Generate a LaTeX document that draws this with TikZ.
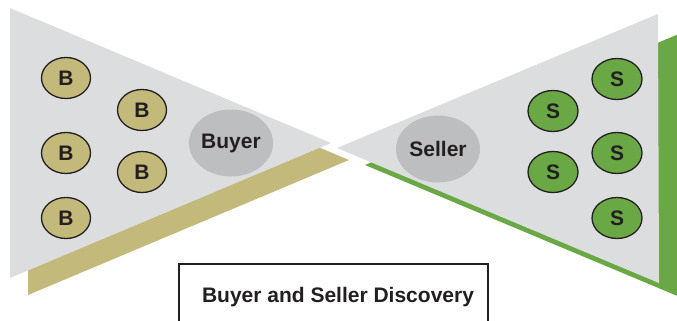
\documentclass[tikz,border=0pt]{standalone}
\usepackage{fontspec}
\setmainfont{Liberation Sans}
\usetikzlibrary{shapes.geometric}
\definecolor{tri}{HTML}{DCDDDF}
\definecolor{olive}{HTML}{C3B97A}
\definecolor{grn}{HTML}{6AA845}
\definecolor{hub}{HTML}{BDBEC0}
\definecolor{ink}{HTML}{231F20}
\tikzset{
  lbl/.style={font=\fontsize{21}{23}\selectfont\bfseries, text=ink},
  bnode/.style={ellipse, draw=ink, line width=1.3pt, fill=olive, minimum width=49pt, minimum height=41pt, inner sep=0pt, lbl},
  snode/.style={ellipse, draw=ink, line width=1.3pt, fill=grn, minimum width=50pt, minimum height=41pt, inner sep=0pt, lbl},
  hubnode/.style={ellipse, fill=hub, minimum width=84pt, minimum height=67pt, inner sep=0pt, lbl}
}
\begin{document}
\begin{tikzpicture}[x=1pt,y=-1pt]
\useasboundingbox (0,0) rectangle (677,321);
\clip (0,0) rectangle (677,321);
\fill[white] (0,0) rectangle (677,321);
% shadows
\fill[olive] (28,25) -- (349,160) -- (28,295) -- cycle;
\fill[grn] (686,31) -- (365,165) -- (687,300) -- cycle;
% triangles
\fill[tri] (10,8) -- (331,143) -- (10,278) -- cycle;
\fill[tri] (658,14) -- (337,148) -- (659,283) -- cycle;
% buyers
\node[bnode] (b1) at (66,78) {B};
\node[bnode] (b2) at (142,110) {B};
\node[bnode] (b3) at (66,153) {B};
\node[bnode] (b4) at (142,172) {B};
\node[bnode] (b5) at (66,218) {B};
\node[hubnode] (buyer) at (231,143) {Buyer};
% sellers
\node[snode] (s1) at (617,79) {S};
\node[snode] (s2) at (553,111) {S};
\node[snode] (s3) at (617,153) {S};
\node[snode] (s4) at (553,172) {S};
\node[snode] (s5) at (617,218) {S};
\node[hubnode] (seller) at (438,149) {Seller};
% title box
\draw[ink, line width=2pt] (179,340) -- (179,264) -- (488,264) -- (488,340);
\node[lbl] (title) at (338,297) {Buyer and Seller Discovery};
\end{tikzpicture}
\end{document}
